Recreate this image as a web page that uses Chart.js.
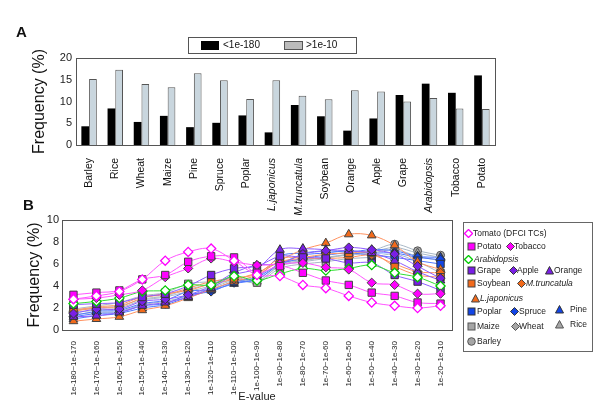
<!DOCTYPE html>
<html>
<head>
<meta charset="utf-8">
<script src="https://cdn.jsdelivr.net/npm/chart.js@4.4.0/dist/chart.umd.min.js"></script>
<style>
body { margin: 0; background: #fff; font-family: "Liberation Sans", Arial, sans-serif; }
#wrap { position: relative; width: 600px; height: 410px; overflow: hidden; background: #fff; }
#wrap canvas { position: absolute; left: 0; }
#cA { top: 0; }
#cB { top: 200px; }
.tag { position: absolute; font-weight: bold; font-size: 15px; color: #111; }
#legA { position: absolute; left: 188px; top: 37px; width: 167px; height: 15px; border: 1px solid #555; font-size: 10px; color: #111; }
#legA span { position: absolute; }
#legB { position: absolute; left: 463px; top: 222px; width: 128px; height: 128px; border: 1px solid #666; font-size: 8.5px; color: #222; }
#legB .ic { position: absolute; width: 9px; height: 9px; }
#legB .tx { position: absolute; white-space: nowrap; line-height: 10px; }
</style>
</head>
<body>
<div id="wrap">
  <canvas id="cB" width="600" height="210"></canvas>
  <canvas id="cA" width="600" height="215"></canvas>
  <div class="tag" style="left:16px;top:23px;">A</div>
  <div class="tag" style="left:23px;top:196px;">B</div>
  <div id="legA"></div>
  <div id="legB"></div>
</div>
<script>
// ---- panel A data ----
const species = ['Barley', 'Rice', 'Wheat', 'Maize', 'Pine', 'Spruce', 'Poplar', 'L.japonicus',
  'M.truncatula', 'Soybean', 'Orange', 'Apple', 'Grape', 'Arabidopsis', 'Tobacco', 'Potato'];
const italicNames = ['L.japonicus', 'M.truncatula', 'Arabidopsis'];
const lowE = [4.3, 8.4, 5.3, 6.7, 4.1, 5.1, 6.8, 2.9, 9.2, 6.6, 3.3, 6.1, 11.5, 14.1, 12.0, 16.0];
const highE = [15.2, 17.3, 14.0, 13.3, 16.5, 14.9, 10.6, 14.9, 11.3, 10.5, 12.6, 12.3, 10.0, 10.8, 8.4, 8.3];

// ---- panel B data ----
const eRanges = ['1e-180~1e-170', '1e-170~1e-160', '1e-160~1e-150', '1e-150~1e-140', '1e-140~1e-130',
  '1e-130~1e-120', '1e-120~1e-110', '1e-110~1e-100', '1e-100~1e-90', '1e-90~1e-80', '1e-80~1e-70',
  '1e-70~1e-60', '1e-60~1e-50', '1e-50~1e-40', '1e-40~1e-30', '1e-30~1e-20', '1e-20~1e-10'];
const tomato = [2.8, 3.1, 3.5, 4.6, 6.3, 7.1, 7.4, 6.3, 5.0, 4.9, 4.1, 3.8, 3.1, 2.5, 2.2, 2.0, 2.2];
const potato = [3.2, 3.4, 3.6, 4.6, 5.0, 6.2, 6.7, 6.6, 5.2, 5.8, 5.2, 4.5, 4.1, 3.4, 3.1, 2.5, 2.4];
const tobacco = [2.8, 2.9, 3.2, 3.6, 4.8, 5.6, 6.5, 6.2, 5.9, 6.0, 6.1, 5.7, 5.5, 4.3, 4.1, 3.3, 3.3];
const arabidopsis = [2.4, 2.6, 2.9, 3.5, 3.6, 4.1, 4.1, 4.9, 4.5, 5.1, 5.6, 5.4, 5.6, 5.9, 5.2, 4.8, 4.0];
const grape = [2.3, 2.4, 2.5, 3.0, 3.3, 4.0, 5.0, 5.6, 5.8, 6.7, 6.6, 6.5, 6.1, 6.1, 5.0, 4.4, 3.6];
const apple = [1.5, 1.9, 1.9, 2.6, 2.8, 3.2, 4.0, 5.2, 5.9, 6.0, 6.9, 7.2, 7.5, 7.3, 6.9, 5.8, 4.7];
const orange = [1.2, 1.3, 1.6, 2.2, 2.5, 3.0, 3.8, 5.0, 5.6, 7.3, 7.4, 7.3, 7.2, 7.0, 6.3, 5.3, 4.5];
const soybean = [1.8, 2.1, 2.3, 3.0, 3.2, 3.8, 4.4, 4.7, 5.1, 6.5, 6.6, 6.9, 7.0, 7.0, 5.8, 5.0, 4.8];
const mtruncatula = [1.7, 2.0, 2.1, 2.9, 3.3, 3.6, 4.2, 4.6, 5.2, 6.2, 6.5, 6.5, 6.6, 6.8, 6.0, 5.3, 5.2];
const ljaponicus = [0.8, 1.0, 1.2, 1.8, 2.2, 2.9, 3.7, 4.4, 5.0, 6.3, 7.3, 7.9, 8.7, 8.6, 7.7, 6.2, 5.5];
const poplar = [1.3, 1.7, 1.8, 2.4, 2.7, 3.5, 3.7, 4.4, 4.8, 6.0, 6.5, 6.8, 7.0, 6.8, 6.6, 6.3, 6.0];
const spruce = [1.2, 1.5, 1.6, 2.2, 2.4, 3.2, 3.5, 4.3, 4.6, 6.0, 6.8, 7.0, 7.2, 7.0, 7.0, 6.6, 6.4];
const pine = [1.0, 1.3, 1.5, 2.0, 2.3, 3.0, 3.6, 4.2, 4.7, 6.7, 7.0, 7.2, 7.1, 7.3, 7.2, 6.7, 6.6];
const maize = [1.9, 2.2, 2.5, 3.1, 3.4, 4.2, 4.4, 4.7, 4.3, 5.6, 6.0, 6.2, 6.5, 6.6, 6.9, 6.2, 5.2];
const wheat = [1.6, 1.8, 2.0, 2.7, 3.0, 3.5, 4.0, 4.6, 4.6, 6.0, 6.4, 6.6, 6.8, 7.0, 7.3, 6.7, 6.3];
const rice = [1.4, 1.6, 1.7, 2.3, 2.6, 3.1, 3.8, 4.5, 4.4, 5.8, 6.2, 6.5, 6.9, 7.1, 7.5, 7.0, 6.6];
const barley = [1.8, 2.0, 2.2, 2.8, 3.1, 3.7, 4.2, 4.8, 4.4, 5.9, 6.3, 6.6, 6.9, 7.2, 7.8, 7.2, 6.8];

const FONT = '"Liberation Sans", Arial, sans-serif';
Chart.defaults.font.family = FONT;
Chart.defaults.color = '#222';

// box around the plot area
const frame = {
  id: 'frame',
  afterDraw(chart) {
    const a = chart.chartArea, c = chart.ctx;
    c.save();
    c.strokeStyle = '#555';
    c.lineWidth = 1;
    c.strokeRect(Math.round(a.left) + 0.5, Math.round(a.top) + 0.5,
      Math.round(a.right - a.left), Math.round(a.bottom - a.top));
    c.restore();
  }
};

// ---- chart A ----
new Chart(document.getElementById('cA'), {
  type: 'bar',
  data: {
    labels: species,
    datasets: [
      { label: '<1e-180', data: lowE, backgroundColor: '#000', borderWidth: 0 },
      { label: '>1e-10', data: highE, backgroundColor: '#c9d6de', borderColor: '#555', borderWidth: 1 }
    ]
  },
  options: {
    responsive: false,
    animation: false,
    categoryPercentage: 0.59,
    barPercentage: 1,
    layout: { padding: { left: 30, right: 105, top: 58, bottom: 0 } },
    plugins: { legend: { display: false }, tooltip: { enabled: false } },
    scales: {
      x: {
        grid: { display: false },
        border: { display: false },
        afterFit: s => { s.height = 70; },
        ticks: {
          autoSkip: false, minRotation: 90, maxRotation: 90, padding: 5, color: '#111',
          font: ctx => ({ size: 10.5, style: italicNames.includes(species[ctx.index]) ? 'italic' : 'normal' })
        }
      },
      y: {
        min: 0, max: 20,
        grid: { display: false, drawTicks: false },
        border: { display: false },
        afterFit: s => { s.width = 46; },
        ticks: { stepSize: 5, padding: 4, font: { size: 11 }, color: '#222' },
        title: { display: true, text: 'Frequency (%)', font: { size: 16 }, color: '#111', padding: 0 }
      }
    }
  },
  plugins: [frame]
});

// ---- legend A ----
const legA = document.getElementById('legA');
legA.innerHTML =
  '<span style="left:12px;top:3px;width:18px;height:9px;background:#000"></span>' +
  '<span style="left:34px;top:1px;">&lt;1e-180</span>' +
  '<span style="left:95px;top:3px;width:17px;height:7px;background:#bbb;border:1px solid #555"></span>' +
  '<span style="left:117px;top:1px;">&gt;1e-10</span>';

// ---- chart B ----
const magenta = '#ff00ff', green = '#00cc00', purple = '#7a1fe6', orangeC = '#f26a1b', blue = '#1245e6', grey = '#a6a6a6';
function series(label, data, shape, fill, line, border) {
  const r = shape === 'rect' ? 5.2 : shape === 'triangle' ? 5 : shape === 'circle' ? 4 : 4.6;
  return {
    label, data,
    pointStyle: shape, pointRadius: r,
    pointBackgroundColor: fill, pointBorderColor: border, pointBorderWidth: 1,
    borderColor: line, borderWidth: 1, tension: 0.35, fill: false
  };
}
const dsB = [
  series('Tomato (DFCI TCs)', tomato, 'rectRot', '#fff', '#ff55ff', magenta),
  series('Potato', potato, 'rect', magenta, '#ff55ff', '#444'),
  series('Tobacco', tobacco, 'rectRot', magenta, '#ff55ff', '#444'),
  series('Arabidopsis', arabidopsis, 'rectRot', '#fff', '#33dd33', green),
  series('Grape', grape, 'rect', purple, '#8f5cff', '#333'),
  series('Apple', apple, 'rectRot', purple, '#8f5cff', '#333'),
  series('Orange', orange, 'triangle', purple, '#8f5cff', '#333'),
  series('Soybean', soybean, 'rect', orangeC, '#ff9260', '#444'),
  series('M.truncatula', mtruncatula, 'rectRot', orangeC, '#ff9260', '#444'),
  series('L.japonicus', ljaponicus, 'triangle', orangeC, '#ff9260', '#444'),
  series('Poplar', poplar, 'rect', blue, '#4f78ff', '#333'),
  series('Spruce', spruce, 'rectRot', blue, '#4f78ff', '#333'),
  series('Pine', pine, 'triangle', blue, '#4f78ff', '#333'),
  series('Maize', maize, 'rect', grey, '#a9b8c6', '#555'),
  series('Wheat', wheat, 'rectRot', grey, '#a9b8c6', '#555'),
  series('Rice', rice, 'triangle', grey, '#a9b8c6', '#555'),
  series('Barley', barley, 'circle', grey, '#a9b8c6', '#555')
];
dsB[0].pointBorderWidth = 1.3;
dsB[3].pointBorderWidth = 1.3;

new Chart(document.getElementById('cB'), {
  type: 'line',
  data: { labels: eRanges, datasets: dsB },
  options: {
    responsive: false,
    animation: false,
    layout: { padding: { left: 25, right: 148, top: 20, bottom: 6 } },
    plugins: { legend: { display: false }, tooltip: { enabled: false } },
    scales: {
      x: {
        offset: true,
        grid: { display: false },
        border: { display: false },
        afterFit: s => { s.height = 74; },
        ticks: { autoSkip: false, minRotation: 90, maxRotation: 90, padding: 3, font: { size: 8 }, color: '#222' },
        title: { display: true, text: 'E-value', font: { size: 11 }, color: '#222', padding: 0 }
      },
      y: {
        min: 0, max: 10,
        grid: { display: false, drawTicks: false },
        border: { display: false },
        afterFit: s => { s.width = 37; },
        ticks: { stepSize: 2, padding: 3, font: { size: 11 }, color: '#222' },
        title: { display: true, text: 'Frequency (%)', font: { size: 16 }, color: '#111', padding: 0 }
      }
    }
  },
  plugins: [frame]
});

// ---- legend B (HTML, icons from dataset styles) ----
const legRows = [
  ['Tomato (DFCI TCs)', 4, 9, 10], ['Potato', 7, 13, 23], ['Tobacco', 46, 50, 23],
  ['Arabidopsis', 4, 10, 36], ['Grape', 7, 13, 47], ['Apple', 49, 53, 47], ['Orange', 85, 90, 47],
  ['Soybean', 7, 13, 60], ['M.truncatula', 57, 62, 60], ['L.japonicus', 11, 16, 75],
  ['Poplar', 7, 13, 88], ['Spruce', 50, 55, 88], ['Pine', 95, 106, 86],
  ['Maize', 7, 13, 103], ['Wheat', 51, 55, 103], ['Rice', 95, 106, 101], ['Barley', 7, 13, 118]
];
function iconSvg(ds) {
  const f = ds.pointBackgroundColor, s = ds.pointBorderColor, w = ds.pointBorderWidth;
  let shape;
  if (ds.pointStyle === 'rect') shape = `<rect x="1" y="1" width="7" height="7" fill="${f}" stroke="${s}" stroke-width="${w}"/>`;
  else if (ds.pointStyle === 'rectRot') shape = `<polygon points="4.5,0.5 8.5,4.5 4.5,8.5 0.5,4.5" fill="${f}" stroke="${s}" stroke-width="${w}"/>`;
  else if (ds.pointStyle === 'triangle') shape = `<polygon points="4.5,0.5 8.5,8 0.5,8" fill="${f}" stroke="${s}" stroke-width="${w}"/>`;
  else shape = `<circle cx="4.5" cy="4.5" r="3.8" fill="${f}" stroke="${s}" stroke-width="${w}"/>`;
  return `<svg width="9" height="9" viewBox="0 0 9 9">${shape}</svg>`;
}
const legB = document.getElementById('legB');
legRows.forEach(([name, ix, tx, y]) => {
  const ds = dsB.find(d => d.label === name);
  const it = italicNames.includes(name) ? 'font-style:italic;' : '';
  legB.insertAdjacentHTML('beforeend',
    `<div class="ic" style="left:${ix - 4.5}px;top:${y - 4.5}px">${iconSvg(ds)}</div>` +
    `<div class="tx" style="left:${tx}px;top:${y - 5}px;${it}">${name}</div>`);
});
</script>
</body>
</html>
